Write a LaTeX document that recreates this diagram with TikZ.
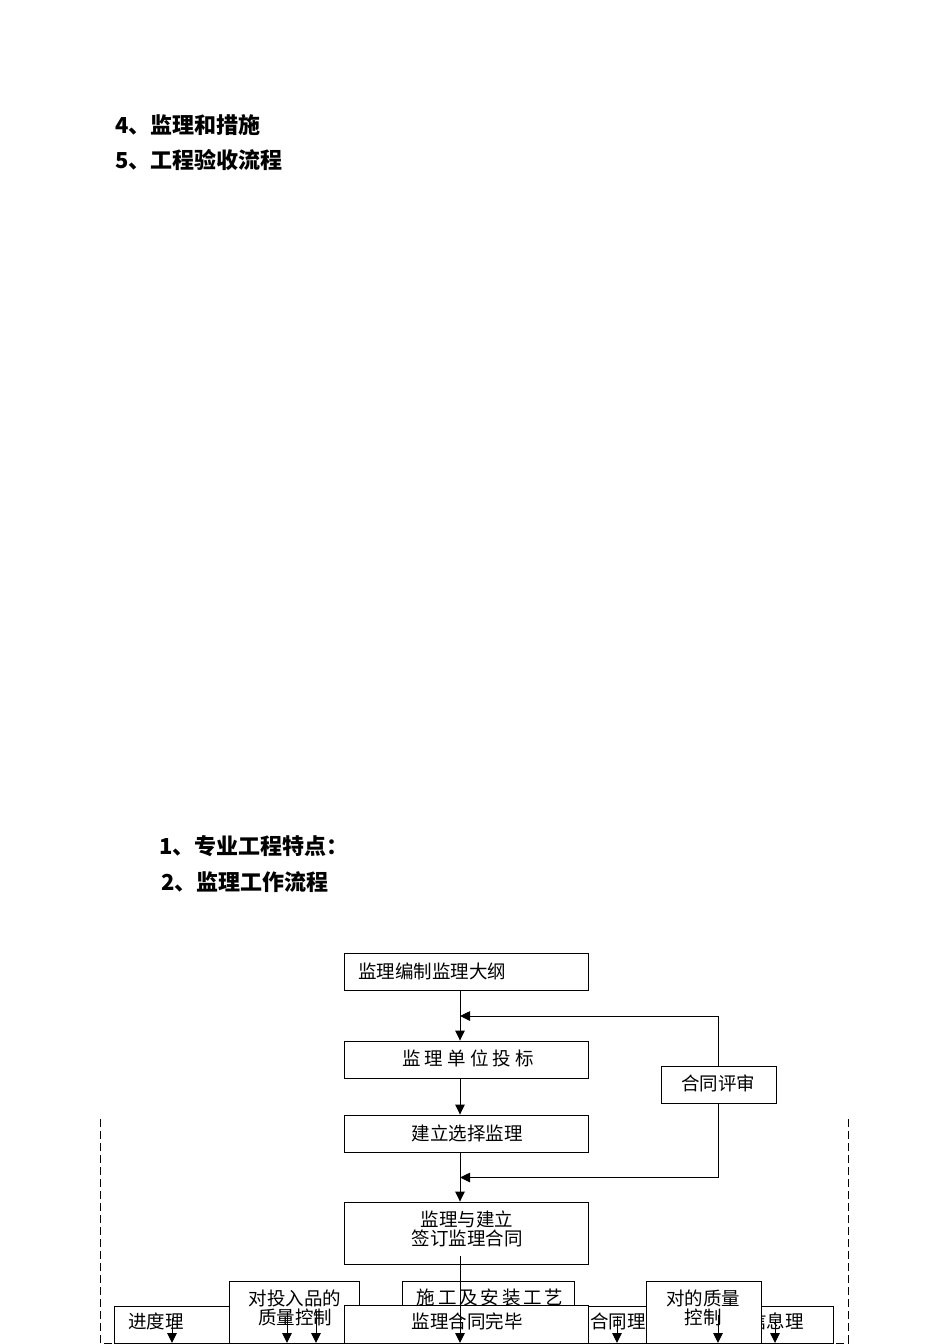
\documentclass[tikz,border=0pt]{standalone}
\usepackage{fontspec}
\setmainfont{Noto Sans CJK SC}
\usetikzlibrary{arrows.meta}
\begin{document}
\begin{tikzpicture}[x=1pt,y=-1pt,
  box/.style={draw, line width=0.9pt, fill=white, inner sep=0pt},
  txt/.style={inner sep=0pt, font=\fontsize{18.5}{19}\selectfont, align=center},
  head/.style={inner sep=0pt, anchor=west, font=\fontsize{22}{24}\selectfont\bfseries},
  arr/.style={line width=0.9pt, -{Triangle[width=9.5pt,length=10pt]}},
  frame/.style={line width=0.9pt, dash pattern=on 8pt off 4pt}]
\useasboundingbox (0,0) rectangle (950,1344);

% headings
\node[head] (h4) at (115,125) {4、监理和措施};
\node[head] (h5) at (115,160) {5、工程验收流程};
\node[head] (h1) at (159,846) {1、专业工程特点：};
\node[head] (h2) at (161,882) {2、监理工作流程};

% main column
\node[box, minimum width=244pt, minimum height=37pt] (b1) at (466,971.5) {};
\node[txt, anchor=west] (t1) at (358,971) {监理编制监理大纲};
\node[box, minimum width=244pt, minimum height=37pt] (b2) at (466,1059.5) {};
\node[txt] (t2) at (468,1058) {监 理 单 位 投 标};
\node[box, minimum width=244pt, minimum height=37pt] (b3) at (466,1133.5) {};
\node[txt] (t3) at (467,1133) {建立选择监理};
\node[box, minimum width=115pt, minimum height=37pt] (rev) at (718.5,1084.5) {};
\node[txt] (trev) at (718,1083) {合同评审};
\node[box, minimum width=244pt, minimum height=62pt] (b4) at (466,1233) {};
\node[txt] (t4) at (467,1229) {监理与建立\\签订监理合同};

% bottom row
\node[box, minimum width=116pt, minimum height=37pt] (p1) at (172,1324.5) {};
\node[txt, anchor=west] (tp1) at (128,1321) {进度理};
\node[box, minimum width=58pt, minimum height=37pt] (p5) at (617,1324.5) {};
\node[txt, anchor=west] (tp5) at (590,1321) {合同理};
\node[box, minimum width=72pt, minimum height=37pt] (p7) at (797,1324.5) {};
\node[txt, anchor=east] (tp7) at (804,1321) {信息理};
\node[box, minimum width=172pt, minimum height=62pt] (p3) at (488,1312) {};
\node[txt, font=\fontsize{18.5}{19}\selectfont\addfontfeatures{LetterSpace=15}] (tp3) at (490,1297) {施工及安装工艺};
\node[box, minimum width=130pt, minimum height=62pt] (p2) at (294,1312) {};
\node[txt] (tp2) at (295,1307.5) {对投入品的\\质量控制};
\node[box, minimum width=115pt, minimum height=62pt] (p6) at (703.5,1312) {};
\node[txt] (tp6) at (703,1307.5) {对的质量\\控制};
\node[box, minimum width=244pt, minimum height=38pt] (p4) at (466,1324) {};
\node[txt] (tp4) at (467,1321) {监理合同完毕};

% main connectors
\coordinate (m) at (460,0);
\draw[arr] (b1.south -| m) -- (b2.north -| m);
\draw[arr] (b2.south -| m) -- (b3.north -| m);
\draw[arr] (b3.south -| m) -- (b4.north -| m);
\coordinate (fb1) at (460,1016);
\coordinate (fb2) at (460,1177.5);
\draw[arr] (rev.north) |- (fb1);
\draw[arr] (rev.south) |- (fb2);
\coordinate (m4) at (460,1256);
\coordinate (mend) at (460,1343);
\draw[arr] (m4) -- (mend);

% small arrows in bottom row
\coordinate (a1s) at (172,1318); \coordinate (a1e) at (172,1343);
\coordinate (a2s) at (287,1312); \coordinate (a2e) at (287,1343);
\coordinate (a3s) at (316,1312); \coordinate (a3e) at (316,1343);
\coordinate (a4s) at (617,1316); \coordinate (a4e) at (617,1343);
\coordinate (a5s) at (718,1315); \coordinate (a5e) at (718,1343);
\coordinate (a6s) at (775,1319); \coordinate (a6e) at (775,1343);
\draw[arr] (a1s) -- (a1e);
\draw[arr] (a2s) -- (a2e);
\draw[arr] (a3s) -- (a3e);
\draw[arr] (a4s) -- (a4e);
\draw[arr] (a5s) -- (a5e);
\draw[arr] (a6s) -- (a6e);

% dashed frame
\coordinate (fl) at (100,1119); \coordinate (fr) at (848,1119);
\coordinate (fbl) at (100,1343); \coordinate (fbr) at (848,1343);
\draw[frame] (fl) -- (fbl) -- (fbr) -- (fr);
\end{tikzpicture}
\end{document}
